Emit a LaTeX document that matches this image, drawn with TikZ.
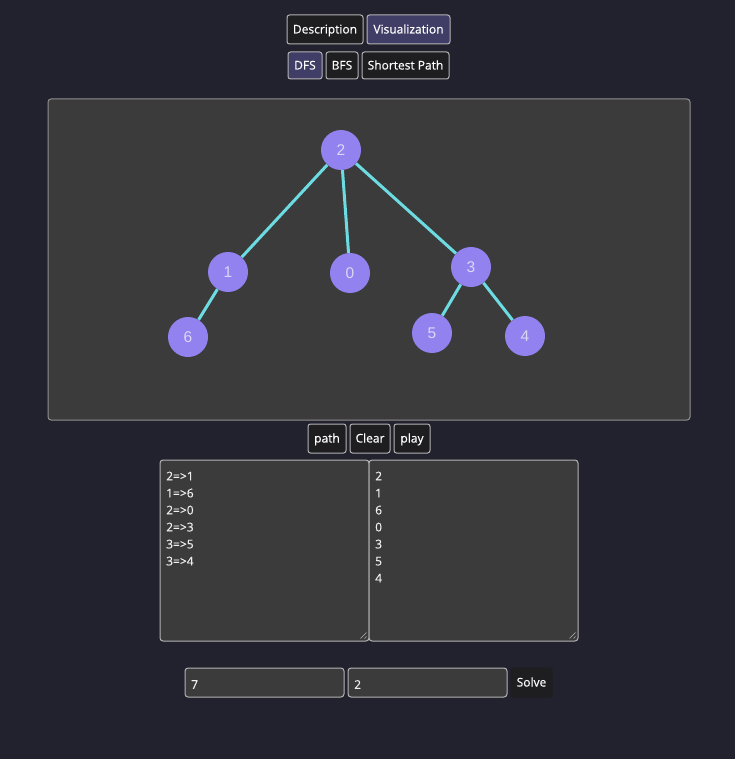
\documentclass[tikz,border=0pt]{standalone}
\usepackage{fontspec}
\setmainfont{Open Sans}[FakeBold=0.35]
\newfontfamily\labelfont{Liberation Sans}
\definecolor{pagebg}{HTML}{22212E}
\definecolor{panelbg}{HTML}{3B3B3B}
\definecolor{framegray}{HTML}{B4B4B4}
\definecolor{btndark}{HTML}{1E1E21}
\definecolor{btnactive}{HTML}{403E66}
\definecolor{vertexfill}{HTML}{9282F0}
\definecolor{vertextext}{HTML}{DCD6F2}
\definecolor{edgecyan}{HTML}{6CDCE2}
\begin{document}
\begin{tikzpicture}[x=1pt,y=-1pt,
  btn/.style={draw=framegray, fill=btndark, rounded corners=2.5pt, line width=1pt,
    text=white, font=\fontsize{12}{14}\selectfont, inner sep=0pt, minimum height=29pt,
    text height=8.5pt, text depth=0.5pt},
  btnon/.style={btn, fill=btnactive},
  vertex/.style={circle, fill=vertexfill, minimum size=40pt, inner sep=0pt,
    text=vertextext, font=\labelfont\fontsize{15.5}{16}\selectfont},
  edge/.style={draw=edgecyan, line width=3pt},
  box/.style={draw=framegray, fill=panelbg, rounded corners=3pt, line width=1pt, inner sep=0pt},
  boxtext/.style={text=white!94!black, font=\fontsize{12}{17}\selectfont, align=left, inner sep=0pt}]
\fill[pagebg] (0,0) rectangle (735,759);
\useasboundingbox (0,0) rectangle (735,759);
\node[btn, minimum width=76pt] (desc) at (325,29.5){Description};
\node[btnon, minimum width=83pt] (vis) at (408.5,29.5){Visualization};
\node[btnon, minimum width=34pt, minimum height=27pt] (dfs) at (305,65.5){DFS};
\node[btn, minimum width=32pt, minimum height=27pt] (bfs) at (342,65.5){BFS};
\node[btn, minimum width=87pt, minimum height=27pt] (spath) at (405.5,65.5){Shortest Path};
\node[box, draw=framegray!80!black, minimum width=642pt, minimum height=321pt] (panel) at (369,259.5){};
\node[vertex] (n2) at (341,150){2};
\node[vertex] (n1) at (228,272){1};
\node[vertex] (n0) at (350,273){0};
\node[vertex] (n3) at (471,267){3};
\node[vertex] (n6) at (188,337){6};
\node[vertex] (n5) at (432,333){5};
\node[vertex] (n4) at (525,336){4};
\draw[edge](n2) -- (n1);
\draw[edge](n2) -- (n0);
\draw[edge](n2) -- (n3);
\draw[edge](n1) -- (n6);
\draw[edge](n3) -- (n5);
\draw[edge](n3) -- (n4);
\node[btn, minimum width=38pt] (path) at (327,438.5){path};
\node[btn, minimum width=40pt] (clear) at (370,438.5){Clear};
\node[btn, minimum width=36pt] (play) at (412,438.5){play};
\node[box, minimum width=209pt, minimum height=181pt] (edgelog) at (264.5,550.5){};
\node[box, minimum width=209pt, minimum height=181pt] (orderlog) at (473.5,550.5){};
\node[boxtext, anchor=north west] (edgelist) at (166,471.5){2=>1\\1=>6\\2=>0\\2=>3\\3=>5\\3=>4};
\node[boxtext, anchor=north west] (orderlist) at (375,471.5){2\\1\\6\\0\\3\\5\\4};
\foreach \b in {edgelog,orderlog}{
  \draw[framegray, line width=0.6pt] ([shift={(-3,-9)}]\b.south east) -- ([shift={(-9,-3)}]\b.south east);
  \draw[framegray, line width=0.6pt] ([shift={(-3,-5)}]\b.south east) -- ([shift={(-5,-3)}]\b.south east);
}
\node[box, minimum width=159pt, minimum height=29pt] (vcount) at (264.5,682.5){};
\node[box, minimum width=159pt, minimum height=29pt] (start) at (427.5,682.5){};
\node[boxtext, anchor=west] (vcountval) at (191,684.5){7};
\node[boxtext, anchor=west] (startval) at (354,684.5){2};
\node[btn, draw=btndark, minimum width=41pt] (solve) at (531.5,682.5){Solve};
\end{tikzpicture}
\end{document}
